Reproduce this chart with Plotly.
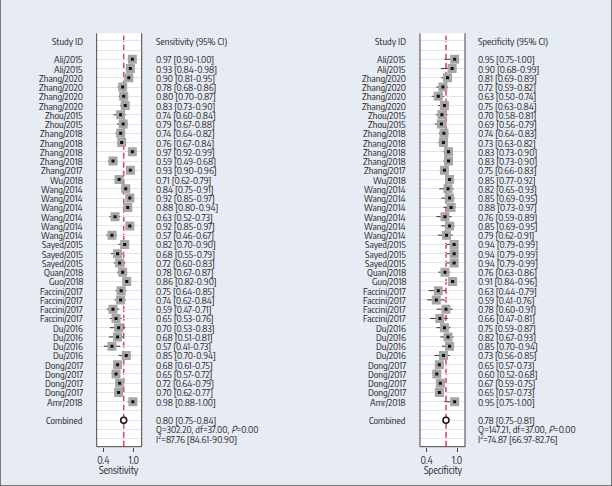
import plotly.graph_objects as go

studies = ["Ali/2015", "Ali/2015", "Zhang/2020", "Zhang/2020", "Zhang/2020", "Zhang/2020",
           "Zhou/2015", "Zhou/2015", "Zhang/2018", "Zhang/2018", "Zhang/2018", "Zhang/2018",
           "Zhang/2017", "Wu/2018", "Wang/2014", "Wang/2014", "Wang/2014", "Wang/2014",
           "Wang/2014", "Wang/2014", "Sayed/2015", "Sayed/2015", "Sayed/2015", "Quan/2018",
           "Guo/2018", "Faccini/2017", "Faccini/2017", "Faccini/2017", "Faccini/2017",
           "Du/2016", "Du/2016", "Du/2016", "Du/2016", "Dong/2017", "Dong/2017", "Dong/2017",
           "Dong/2017", "Amr/2018"]

sens = [0.97, 0.93, 0.90, 0.78, 0.80, 0.83, 0.74, 0.79, 0.74, 0.76, 0.97, 0.59, 0.93, 0.71,
        0.84, 0.92, 0.88, 0.63, 0.92, 0.57, 0.82, 0.68, 0.72, 0.78, 0.86, 0.75, 0.74, 0.59,
        0.65, 0.70, 0.68, 0.57, 0.85, 0.68, 0.65, 0.72, 0.70, 0.98]
sens_lo = [0.90, 0.84, 0.81, 0.68, 0.70, 0.73, 0.60, 0.67, 0.64, 0.67, 0.92, 0.49, 0.90, 0.62,
           0.75, 0.85, 0.80, 0.52, 0.85, 0.46, 0.70, 0.55, 0.60, 0.67, 0.82, 0.64, 0.62, 0.47,
           0.53, 0.53, 0.51, 0.41, 0.70, 0.61, 0.57, 0.64, 0.62, 0.88]
sens_hi = [1.00, 0.98, 0.95, 0.86, 0.87, 0.90, 0.84, 0.88, 0.82, 0.84, 0.99, 0.68, 0.96, 0.79,
           0.91, 0.97, 0.94, 0.73, 0.97, 0.67, 0.90, 0.79, 0.83, 0.87, 0.90, 0.85, 0.84, 0.71,
           0.76, 0.83, 0.81, 0.73, 0.94, 0.75, 0.72, 0.79, 0.77, 1.00]

spec = [0.95, 0.90, 0.81, 0.72, 0.63, 0.75, 0.70, 0.69, 0.74, 0.73, 0.83, 0.83, 0.75, 0.85,
        0.82, 0.85, 0.88, 0.76, 0.85, 0.79, 0.94, 0.94, 0.94, 0.76, 0.91, 0.63, 0.59, 0.78,
        0.66, 0.75, 0.82, 0.85, 0.73, 0.65, 0.60, 0.67, 0.65, 0.95]
spec_lo = [0.75, 0.68, 0.69, 0.59, 0.50, 0.63, 0.58, 0.56, 0.64, 0.63, 0.73, 0.73, 0.66, 0.77,
           0.65, 0.69, 0.73, 0.59, 0.69, 0.62, 0.79, 0.79, 0.79, 0.63, 0.84, 0.44, 0.41, 0.60,
           0.47, 0.59, 0.67, 0.70, 0.56, 0.57, 0.52, 0.59, 0.57, 0.75]
spec_hi = [1.00, 0.99, 0.89, 0.82, 0.74, 0.84, 0.81, 0.79, 0.83, 0.82, 0.90, 0.90, 0.83, 0.92,
           0.93, 0.95, 0.97, 0.89, 0.95, 0.91, 0.99, 0.99, 0.99, 0.86, 0.96, 0.79, 0.76, 0.91,
           0.81, 0.87, 0.93, 0.94, 0.85, 0.73, 0.68, 0.75, 0.73, 1.00]

pooled_sens = [0.80, 0.75, 0.84]
pooled_spec = [0.78, 0.75, 0.81]
q_sens = "Q=302.20, df=37.00, <i>P</i>=0.00"
q_spec = "Q=147.21, df=37.00, <i>P</i>=0.00"
i2_sens = "I<sup>2</sup>=87.76 [84.61-90.90]"
i2_spec = "I<sup>2</sup>=74.87 [66.97-82.76]"
tick_vals = [0.4, 1.0]
tick_text = ["0.4", "1.0"]

W, H = 612, 486
FONT = "Encode Sans Condensed, Roboto Condensed, Liberation Sans, sans-serif"
TXT = "#262626"
FS = 9.6

rows = list(range(2, 2 + len(studies)))
ROW_COMB = 2 + len(studies) + 1

fig = go.Figure()

def panel(xa, est, lo, hi, pooled):
    fig.add_trace(go.Scatter(
        x=est, y=rows, xaxis=xa, yaxis="y", mode="markers",
        marker=dict(symbol="square", size=9, color="#a6a6a6", line=dict(width=0)),
        error_x=dict(type="data", symmetric=False,
                     array=[h - e for h, e in zip(hi, est)],
                     arrayminus=[e - l for e, l in zip(est, lo)],
                     color="#333333", thickness=1, width=0),
        showlegend=False, hoverinfo="skip"))
    fig.add_trace(go.Scatter(
        x=est, y=rows, xaxis=xa, yaxis="y", mode="markers",
        marker=dict(symbol="square", size=3, color="#111111"),
        showlegend=False, hoverinfo="skip"))
    fig.add_trace(go.Scatter(
        x=[pooled[0]], y=[ROW_COMB], xaxis=xa, yaxis="y", mode="markers",
        marker=dict(symbol="circle", size=6, color="white", line=dict(color="#111111", width=1.5)),
        showlegend=False, hoverinfo="skip"))

panel("x", sens, sens_lo, sens_hi, pooled_sens)
panel("x2", spec, spec_lo, spec_hi, pooled_spec)

def px_x(p):
    return p / W

def px_y(p):
    return 1 - p / H

ann = []
shapes = []

def txt(x, y, text, anchor, f, yref="y"):
    ann.append(dict(x=x, y=y, xref="paper", yref=yref, text=text, xanchor=anchor,
                    yanchor="middle", showarrow=False, font=f, borderpad=0, borderwidth=0))

def panel_text(id_right, val_left, header, est, lo, hi, pooled, qtxt, i2txt, axname, box_l, box_r, xref):
    f = dict(family=FONT, size=FS, color=TXT)
    txt(px_x(id_right), 0, "Study ID", "right", f)
    txt(px_x(val_left), 0, header, "left", f)
    for r, s, e, l, h in zip(rows, studies, est, lo, hi):
        txt(px_x(id_right), r, s, "right", f)
        txt(px_x(val_left), r, f"{e:.2f} [{l:.2f}-{h:.2f}]", "left", f)
    txt(px_x(id_right), ROW_COMB, "Combined", "right", f)
    txt(px_x(val_left), ROW_COMB, f"{pooled[0]:.2f} [{pooled[1]:.2f}-{pooled[2]:.2f}]", "left", f)
    txt(px_x(val_left), ROW_COMB + 1, qtxt, "left", f)
    txt(px_x(val_left), ROW_COMB + 2, i2txt, "left", f)
    txt(px_x((box_l + box_r) / 2), px_y(469.5), axname, "center",
        dict(family=FONT, size=10, color=TXT), yref="paper")
    dref = xref + " domain"
    for (x0, y0, x1, y1) in [(0, 0, 0, 1), (1, 0, 1, 1), (0, 0, 1, 0)]:
        shapes.append(dict(type="line", xref=dref, yref="y domain", x0=x0, y0=y0, x1=x1, y1=y1,
                           line=dict(color="#444444", width=1)))
    shapes.append(dict(type="line", xref=xref, yref="y domain", x0=pooled[0], x1=pooled[0],
                       y0=0, y1=1, line=dict(color="#e0457b", width=1.6, dash="6px,3px"),
                       layer="below"))

L1, R1 = 96.7, 141.7
L2, R2 = 420.0, 465.0
panel_text(82.7, 156.0, "Sensitivity (95% CI)", sens, sens_lo, sens_hi, pooled_sens,
           q_sens, i2_sens, "Sensitivity", L1, R1, "x")
panel_text(405.7, 478.3, "Specificity (95% CI)", spec, spec_lo, spec_hi, pooled_spec,
           q_spec, i2_spec, "Specificity", L2, R2, "x2")

# outer frame
for (x0, y0, x1, y1) in [(0, 0, 0, 1), (1, 0, 1, 1), (0, 0, 1, 0)]:
    shapes.append(dict(type="line", xref="paper", yref="paper", x0=x0, y0=y0, x1=x1, y1=y1,
                       line=dict(color="#555555", width=1.5)))

def xaxis_cfg(l, r):
    scale = 51.0
    x0 = 0.4 - 6.6 / scale
    x1 = x0 + (r - l) / scale
    return dict(domain=[px_x(l), px_x(r)], range=[x0, x1], anchor="y",
                showgrid=False, zeroline=False, showline=False,
                tickvals=tick_vals, ticktext=tick_text, ticks="outside", ticklen=4,
                tickcolor="#444444", tickwidth=1,
                tickfont=dict(family=FONT, size=10, color=TXT), fixedrange=True)

fig.update_layout(
    width=W, height=H,
    margin=dict(l=0, r=0, t=0, b=0),
    paper_bgcolor="#e6ebf4",
    plot_bgcolor="white",
    xaxis=xaxis_cfg(L1, R1),
    xaxis2=xaxis_cfg(L2, R2),
    yaxis=dict(domain=[px_y(446.7), px_y(33.3)], range=[43.86, -0.81], anchor="x",
               tickvals=list(range(0, 44)), showticklabels=False, ticks="",
               showgrid=True, gridcolor="#dfe4ee", gridwidth=1, zeroline=False,
               showline=False, fixedrange=True),
    annotations=ann,
    shapes=shapes,
    showlegend=False,
)

fig.write_html("out.html", config={"displayModeBar": False},
               post_script="document.body.style.margin='0';document.body.style.padding='0';")
